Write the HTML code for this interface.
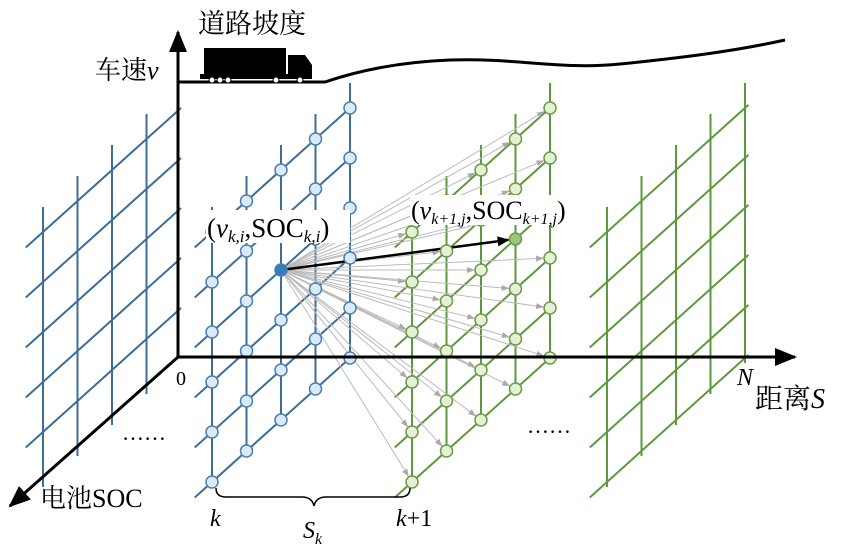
<!DOCTYPE html>
<html><head><meta charset="utf-8"><style>
body{margin:0;background:#fff;}
svg{display:block;}
text{font-family:"Liberation Serif","Noto Serif CJK SC",serif;fill:#000;}
.cjk{font-family:"Noto Serif CJK SC","Noto Sans CJK SC",serif;}
</style></head><body>
<svg id="c" width="844" height="560" viewBox="0 0 844 560" xmlns="http://www.w3.org/2000/svg">
<defs>
<marker id="ah" markerWidth="12" markerHeight="10" refX="11" refY="5" orient="auto" markerUnits="userSpaceOnUse"><path d="M0,0 L12,5 L0,10 z" fill="#000"/></marker>
<marker id="big" markerWidth="22" markerHeight="18" refX="20" refY="9" orient="auto" markerUnits="userSpaceOnUse"><path d="M0,0 L22,9 L0,18 z" fill="#000"/></marker>
<marker id="ga" markerWidth="8" markerHeight="8" refX="7" refY="4" orient="auto" markerUnits="userSpaceOnUse"><path d="M0,1 L8,4 L0,7 z" fill="#aaa"/></marker>
</defs>
<g id="grids"></g>
<g id="arrows"></g>
<g id="nodes"></g>
<line x1="178" y1="357" x2="178" y2="32" stroke="#000" stroke-width="3" marker-end="url(#big)"/>
<line x1="178" y1="357" x2="795" y2="357" stroke="#000" stroke-width="3" marker-end="url(#big)"/>
<line x1="178" y1="357" x2="10" y2="506" stroke="#000" stroke-width="3" marker-end="url(#big)"/>
<path d="M178,82 L325,82 C360,70 400,62 450,60 C520,58 560,70 620,64 C690,57 740,50 785,40" fill="none" stroke="#000" stroke-width="3"/>
<g>
<rect x="204" y="48" width="82" height="27" fill="#000"/>
<path d="M288,55 L305,55 L312,65 L312,77 L288,77 z" fill="#000"/>
<rect x="200" y="74" width="112" height="5" fill="#000"/>
<circle cx="212" cy="80" r="3" fill="#fff" stroke="#000"/><circle cx="220" cy="80" r="3" fill="#fff" stroke="#000"/><circle cx="228" cy="80" r="3" fill="#fff" stroke="#000"/><circle cx="276" cy="80" r="3" fill="#fff" stroke="#000"/><circle cx="300" cy="80" r="3" fill="#fff" stroke="#000"/>
</g>
<text class="cjk" x="198" y="33" font-size="27">道路坡度</text>
<text x="95" y="79" font-size="26"><tspan class="cjk">车速</tspan><tspan font-style="italic">v</tspan></text>
<text x="176" y="385" font-size="20">0</text>
<text x="737" y="385" font-size="24" font-style="italic">N</text>
<text x="755" y="408" font-size="28"><tspan class="cjk">距离</tspan><tspan font-style="italic">S</tspan></text>
<text x="40" y="507" font-size="26"><tspan class="cjk">电池</tspan>SOC</text>
<text x="122" y="440" font-size="22">……</text>
<text x="527" y="433" font-size="22">……</text>
<path d="M216,488 Q216,497 226,497 L302,497 Q312,497 314,506 Q316,497 326,497 L400,497 Q410,497 410,488" fill="none" stroke="#000" stroke-width="1.5"/>
<text x="210" y="526" font-size="24" font-style="italic">k</text>
<text x="303" y="538" font-size="24" font-style="italic">S<tspan font-size="16" dy="6">k</tspan></text>
<text x="396" y="526" font-size="24"><tspan font-style="italic">k</tspan>+1</text>
<script>
const cols=[0,1,2,3,4];
const rows=[0,1,2,3,4,5];
const stageOffsets=[-169,0,200,395];
const stageColors=["#3d6d99","#3d6d99","#5b9a3a","#5b9a3a"];
const stageVertCols=[[0,1,2,3],[0,1,2,3,4],[0,1,2,3,4],[0,1,2,3,4]];
const stageRows=[[1,2,3,4,5],[0,1,2,3,4,5],[0,1,2,3,4,5],[0,1,2,3,4,5]];
const focus={col:2,row:3};
const target={col:3,row:3};
const NS="http://www.w3.org/2000/svg";
const X0=212,Y0=482,DX=34.5,DY=-31,RY=-50;
function px(s,c){return X0+stageOffsets[s]+DX*c;}
function py(c,r){return Y0+DY*c+RY*r;}
function mk(tag,attrs,parent){const e=document.createElementNS(NS,tag);for(const k in attrs)e.setAttribute(k,attrs[k]);parent.appendChild(e);return e;}
const G=document.getElementById('grids'),A=document.getElementById('arrows'),N=document.getElementById('nodes');
stageOffsets.forEach((o,s)=>{
  const col=stageColors[s];
  stageVertCols[s].forEach(c=>{
    const l=mk('line',{x1:px(s,c),y1:py(c,0)+5,x2:px(s,c),y2:py(c,5)-25,stroke:col,'stroke-width':2},G);
    
    
  });
  const cEnd=s===0?4:4.1;
  stageRows[s].forEach(r=>{
    const l=mk('line',{x1:px(s,-0.5),y1:py(-0.5,r),x2:px(s,cEnd),y2:py(cEnd,r),stroke:col,'stroke-width':2},G);
    
    
  });
});
const fx=px(1,focus.col),fy=py(focus.col,focus.row);
cols.forEach(c=>rows.forEach(r=>{
  if(c===target.col&&r===target.row)return;
  const tx=px(2,c),ty=py(c,r),d=Math.hypot(tx-fx,ty-fy);
  const l=mk('line',{x1:fx,y1:fy,x2:tx-(tx-fx)/d*7,y2:ty-(ty-fy)/d*7,stroke:'#bbb','stroke-width':1,'marker-end':'url(#ga)'},A);
  
  
}));
{const tx=px(2,target.col),ty=py(target.col,target.row),d=Math.hypot(tx-fx,ty-fy);
const l=mk('line',{x1:fx,y1:fy,x2:tx-(tx-fx)/d*7,y2:ty-(ty-fy)/d*7,stroke:'#000','stroke-width':2.5,'marker-end':'url(#ah)'},A);

}
[1,2].forEach(s=>cols.forEach(c=>rows.forEach(r=>{
  const isF=s===1&&c===focus.col&&r===focus.row, isT=s===2&&c===target.col&&r===target.row;
  const blue=s===1;
  const n=mk('circle',{cx:px(s,c),cy:py(c,r),r:6,fill:isF?'#3a7cc0':isT?'#9cc47a':(blue?'#dbeaf8':'#e4f1d4'),stroke:blue?'#4a7fb0':'#6a9a4a','stroke-width':1.5},N);
  
  
})));
</script>
<rect x="206" y="210" width="144" height="33" fill="#fff"/>
<text x="207" y="237" font-size="27">(<tspan font-style="italic">v</tspan><tspan font-size="17" dy="5" font-style="italic">k,i</tspan><tspan dy="-5">,SOC</tspan><tspan font-size="17" dy="5" font-style="italic">k,i</tspan><tspan dy="-5">)</tspan></text>
<rect x="410" y="195" width="182" height="30" fill="#fff"/>
<text x="411" y="219" font-size="26">(<tspan font-style="italic">v</tspan><tspan font-size="16" dy="5" font-style="italic">k+1,j</tspan><tspan dy="-5">,SOC</tspan><tspan font-size="16" dy="5" font-style="italic">k+1,j</tspan><tspan dy="-5">)</tspan></text>
</svg>
</body></html>
